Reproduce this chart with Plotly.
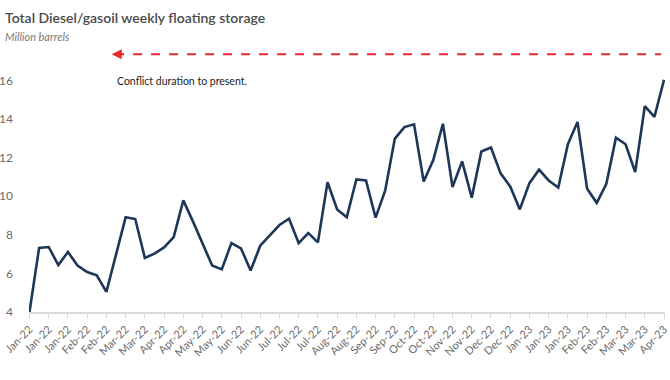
import plotly.graph_objects as go

tick_labels = ["Jan-22", "Jan-22", "Jan-22", "Feb-22", "Feb-22", "Mar-22", "Mar-22",
               "Apr-22", "Apr-22", "May-22", "May-22", "Jun-22", "Jun-22", "Jul-22",
               "Jul-22", "Jul-22", "Aug-22", "Aug-22", "Sep-22", "Sep-22", "Oct-22",
               "Oct-22", "Nov-22", "Nov-22", "Dec-22", "Dec-22", "Jan-23", "Jan-23",
               "Jan-23", "Feb-23", "Feb-23", "Mar-23", "Mar-23", "Apr-23"]

storage = [4.0, 7.32, 7.37, 6.43, 7.11, 6.41, 6.07, 5.90, 5.04, 7.0,
           8.91, 8.82, 6.80, 7.03, 7.35, 7.88, 9.79, 8.7, 7.6, 6.41,
           6.21, 7.57, 7.30, 6.15, 7.44, 8.0, 8.51, 8.84, 7.57, 8.09,
           7.61, 10.73, 9.32, 8.91, 10.87, 10.82, 8.89, 10.31, 12.99, 13.59,
           13.73, 10.77, 11.88, 13.76, 10.48, 11.81, 9.93, 12.32, 12.53, 11.19,
           10.51, 9.32, 10.68, 11.38, 10.82, 10.45, 12.70, 13.85, 10.39, 9.66,
           10.65, 13.04, 12.70, 11.25, 14.67, 14.12, 16.04]

weeks = list(range(len(storage)))
tick_positions = weeks[::2]

W, H = 670, 380
ML, MR, MT, MB = 29, 5, 42, 68
plot_w = W - ML - MR
plot_h = H - MT - MB

fig = go.Figure()
fig.add_trace(go.Scatter(x=weeks, y=storage, mode="lines",
                         line=dict(color="#1e3658", width=2.6),
                         hoverinfo="skip", showlegend=False))

font_family = "Lato, 'Open Sans', sans-serif"

fig.update_layout(
    width=W, height=H,
    margin=dict(l=ML, r=MR, t=MT, b=MB, autoexpand=False),
    paper_bgcolor="white", plot_bgcolor="white",
    font=dict(family=font_family, color="#666666"),
    xaxis=dict(range=[-0.05, 66.1], tickvals=tick_positions, ticktext=tick_labels,
               tickangle=-45, tickfont=dict(size=11, color="#6b6b6b"),
               ticklabeloverflow="allow",
               showline=True, linecolor="#d9d9d9", linewidth=1.5,
               ticks="outside", ticklen=5, tickcolor="#d9d9d9",
               showgrid=False, zeroline=False, fixedrange=True),
    yaxis=dict(range=[4, 18], tickvals=[4, 6, 8, 10, 12, 14, 16],
               tickfont=dict(size=12, color="#6b6b6b"),
               showline=False, showgrid=False, zeroline=False,
               ticks="", ticklabelstandoff=15, fixedrange=True),
    shapes=[dict(type="line", xref="x", yref="y", x0=8.9, x1=65.7, y0=17.37, y1=17.37,
                 line=dict(color="#e8282b", width=2, dash="dash"))],
)

fig.add_annotation(x=8.55, y=17.37, ax=12, ay=0, xref="x", yref="y", text="",
                   showarrow=True, arrowhead=2, arrowsize=1, arrowwidth=2,
                   arrowcolor="#e8282b")
fig.add_annotation(x=66.2, y=17.37, ax=-12, ay=0, xref="x", yref="y", text="",
                   showarrow=True, arrowhead=2, arrowsize=1, arrowwidth=2,
                   arrowcolor="#e8282b")
fig.add_annotation(x=8.9, y=16.0, xref="x", yref="y", xanchor="left", yanchor="middle",
                   text="Conflict duration to present.", showarrow=False,
                   font=dict(size=10.5, color="#222222", family=font_family))

# title & subtitle (pixel positions converted to paper coordinates)
title_x = (3 - ML) / plot_w
fig.add_annotation(x=title_x, y=1 + (MT - 17) / plot_h,
                   xref="paper", yref="paper", xanchor="left", yanchor="middle",
                   text="Total Diesel/gasoil weekly floating storage", showarrow=False,
                   font=dict(size=14, color="#4a4a4a", family=font_family, weight=600))
fig.add_annotation(x=title_x, y=1 + (MT - 36) / plot_h,
                   xref="paper", yref="paper", xanchor="left", yanchor="middle",
                   text="<i>Million barrels</i>", showarrow=False,
                   font=dict(size=11, color="#7a7a7a", family=font_family))

fig.write_html("out.html", config={"displayModeBar": False},
               post_script="document.body.style.margin='0';")
